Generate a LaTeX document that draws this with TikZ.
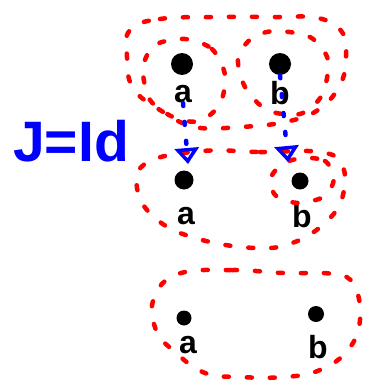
\documentclass[tikz,border=0pt]{standalone}
\usepackage{fontspec}
\setmainfont{Liberation Sans}
\usetikzlibrary{arrows.meta}
\begin{document}
\begin{tikzpicture}[x=1pt,y=-1pt,
  loopline/.style={red, line width=4.5pt, line cap=round, dash pattern=on 5pt off 18pt},
  mapline/.style={blue, line width=4.5pt, line cap=round, dash pattern=on 3pt off 16pt,
    -{Triangle[open,length=16pt,width=24pt,line width=3.5pt]}},
  pt/.style={circle, fill=black, inner sep=0pt, minimum size=#1},
  lbl/.style={font=\bfseries\fontsize{32}{32}\selectfont, text=black, inner sep=0pt}]
\useasboundingbox (0,0) rectangle (368,383);
% top level
\node[pt=22pt] (ta) at (182,64) {};
\node[pt=22pt] (tb) at (280,64) {};
\node[lbl] (la) at (183,94) {a};
\node[lbl] (lb) at (280,93) {b};
% middle level
\node[pt=19pt] (ma) at (184,180) {};
\node[pt=17pt] (mb) at (300,181) {};
\node[lbl] (lma) at (186,216) {a};
\node[lbl] (lmb) at (302,216) {b};
% bottom level
\node[pt=15pt] (ba) at (184,318) {};
\node[pt=16pt] (bb) at (316,314) {};
\node[lbl] (lba) at (188,345) {a};
\node[lbl] (lbb) at (318,347) {b};
% label
\node[font=\bfseries\fontsize{57}{57}\selectfont, text=blue, inner sep=0pt] (J) at (71,141) {J=Id};
% loops top
\draw[loopline] plot[smooth cycle, tension=0.7] coordinates {(130,30) (160,19) (218,17) (275,17) (318,18) (342,32) (346,57) (340,85) (318,110) (285,122) (240,127) (195,127) (160,110) (133,88) (127,57)};
\draw[loopline] plot[smooth cycle] coordinates {(185,39) (212,49) (225,75) (220,104) (200,121) (175,118) (150,100) (143,68) (155,45)};
\draw[loopline] plot[smooth cycle] coordinates {(275,31) (310,37) (328,60) (322,95) (300,114) (267,110) (245,87) (238,58) (252,38)};
% loops middle
\draw[loopline] plot[smooth cycle, tension=0.7] coordinates {(203,151) (260,152) (320,152) (342,165) (343,195) (328,220) (295,242) (255,248) (195,238) (155,218) (137,188) (148,162)};
\draw[loopline] plot[smooth cycle] coordinates {(303,158) (325,161) (334,178) (325,196) (300,203) (277,197) (270,180) (282,164)};
% loop bottom
\draw[loopline] plot[smooth cycle, tension=0.7] coordinates {(178,274) (232,270) (283,273) (333,274) (354,285) (360,320) (348,350) (320,370) (285,377) (240,377) (205,373) (175,352) (156,330) (154,298)};
% maps
\coordinate (ea) at (188,164);
\coordinate (eb) at (288,162);
\draw[mapline] (la.south) -- (ea);
\draw[mapline] (tb.south) -- (eb);
\end{tikzpicture}
\end{document}
